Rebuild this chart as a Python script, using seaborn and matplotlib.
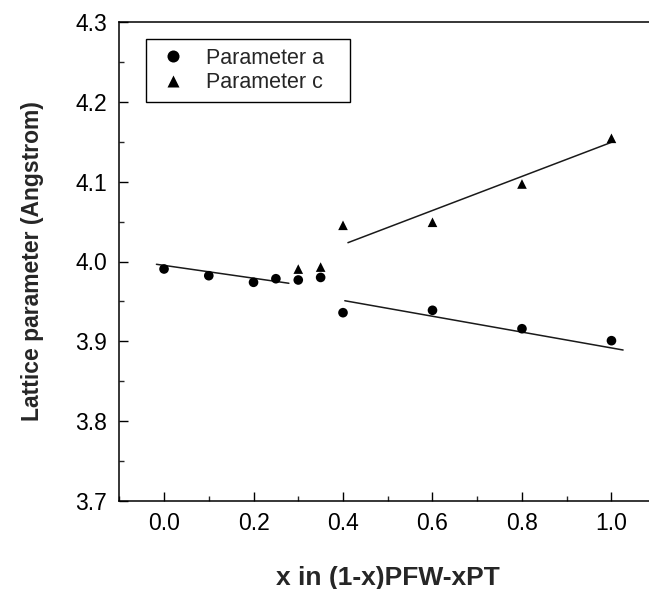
import numpy as np
import pandas as pd
import matplotlib
matplotlib.use("Agg")
import matplotlib.pyplot as plt
from matplotlib.ticker import MultipleLocator
import seaborn as sns

# ---- data ----
x_a = [0.0, 0.1, 0.2, 0.25, 0.3, 0.35, 0.4, 0.6, 0.8, 1.0]
param_a = [3.9906, 3.9822, 3.9739, 3.9784, 3.9768, 3.9800, 3.9358, 3.9388, 3.9157, 3.9007]
x_c = [0.3, 0.35, 0.4, 0.6, 0.8, 1.0]
param_c = [3.9905, 3.9930, 4.0454, 4.0492, 4.0972, 4.1545]

# linear fit segments (endpoints)
fit_a1_x = [-0.017, 0.279]
fit_a1_y = [3.9965, 3.9727]
fit_a2_x = [0.404, 1.026]
fit_a2_y = [3.9508, 3.8890]
fit_c_x = [0.411, 1.000]
fit_c_y = [4.0236, 4.1495]

series_names = ["Parameter a", "Parameter c"]
x_ticks = [0.0, 0.2, 0.4, 0.6, 0.8, 1.0]
y_ticks = [3.7, 3.8, 3.9, 4.0, 4.1, 4.2, 4.3]

df = pd.DataFrame({
    "x": x_a + x_c,
    "value": param_a + param_c,
    "series": [series_names[0]] * len(x_a) + [series_names[1]] * len(x_c),
})

sns.set_style("ticks")
plt.rcParams["font.family"] = ["Liberation Sans", "DejaVu Sans"]

fig = plt.figure(figsize=(6.49, 5.89), dpi=100)
W, H = 649, 589
left, right, top, bottom = 119.3, 656.2, 22.3, 500.7
ax = fig.add_axes([left / W, 1 - bottom / H, (right - left) / W, (bottom - top) / H])

for fx, fy in [(fit_a1_x, fit_a1_y), (fit_a2_x, fit_a2_y), (fit_c_x, fit_c_y)]:
    sns.lineplot(x=fx, y=fy, ax=ax, color="#1a1a1a", linewidth=1.1, legend=False)

sns.scatterplot(data=df, x="x", y="value", hue="series", style="series",
                palette={series_names[0]: "black", series_names[1]: "black"},
                markers={series_names[0]: "o", series_names[1]: "^"},
                s=48, edgecolor="none", ax=ax, zorder=3)

ax.set_xlim(-0.1, 1.1)
ax.set_ylim(3.7, 4.3)
ax.set_xticks(x_ticks)
ax.set_xticklabels([f"{v:.1f}" for v in x_ticks])
ax.set_yticks(y_ticks)
ax.set_yticklabels([f"{v:.1f}" for v in y_ticks])
ax.xaxis.set_minor_locator(MultipleLocator(0.1))
ax.yaxis.set_minor_locator(MultipleLocator(0.05))

ax.tick_params(which="major", direction="in", length=6.5, width=1.0, labelsize=16.5,
               colors="black")
ax.tick_params(axis="x", which="major", pad=8)
ax.tick_params(axis="y", which="major", pad=9)
ax.tick_params(which="minor", direction="in", length=3.5, width=1.0)
ax.tick_params(right=False, top=False, which="both")

for sp in ["left", "bottom", "top"]:
    ax.spines[sp].set_linewidth(1.1)
    ax.spines[sp].set_color("black")
ax.spines["right"].set_visible(False)

ax.set_xlabel("x in (1-x)PFW-xPT", fontsize=19, fontweight="bold", va="center")
ax.set_ylabel("Lattice parameter (Angstrom)", fontsize=16.5, fontweight="bold", va="center")
ax.xaxis.set_label_coords(0.5, (bottom - 578) / (bottom - top))
ax.yaxis.set_label_coords((33 - left) / (right - left), 0.5)

# legend box in axes fraction
lx0 = (145.5 - left) / (right - left)
lx1 = (350.0 - left) / (right - left)
ly1 = (bottom - 39.2) / (bottom - top)
ly0 = (bottom - 102.6) / (bottom - top)

handles, labels = ax.get_legend_handles_labels()
leg = ax.legend(handles, labels, loc="upper left",
                bbox_to_anchor=(lx0, ly0, lx1 - lx0, ly1 - ly0), mode="expand",
                borderaxespad=0, frameon=True, fancybox=False, framealpha=1,
                edgecolor="black", fontsize=15.5, handletextpad=0.6,
                labelspacing=0.15, borderpad=0.4, handlelength=1.8, markerscale=1.25)
leg.get_frame().set_linewidth(1.0)

fig.savefig("out.png", dpi=100)
